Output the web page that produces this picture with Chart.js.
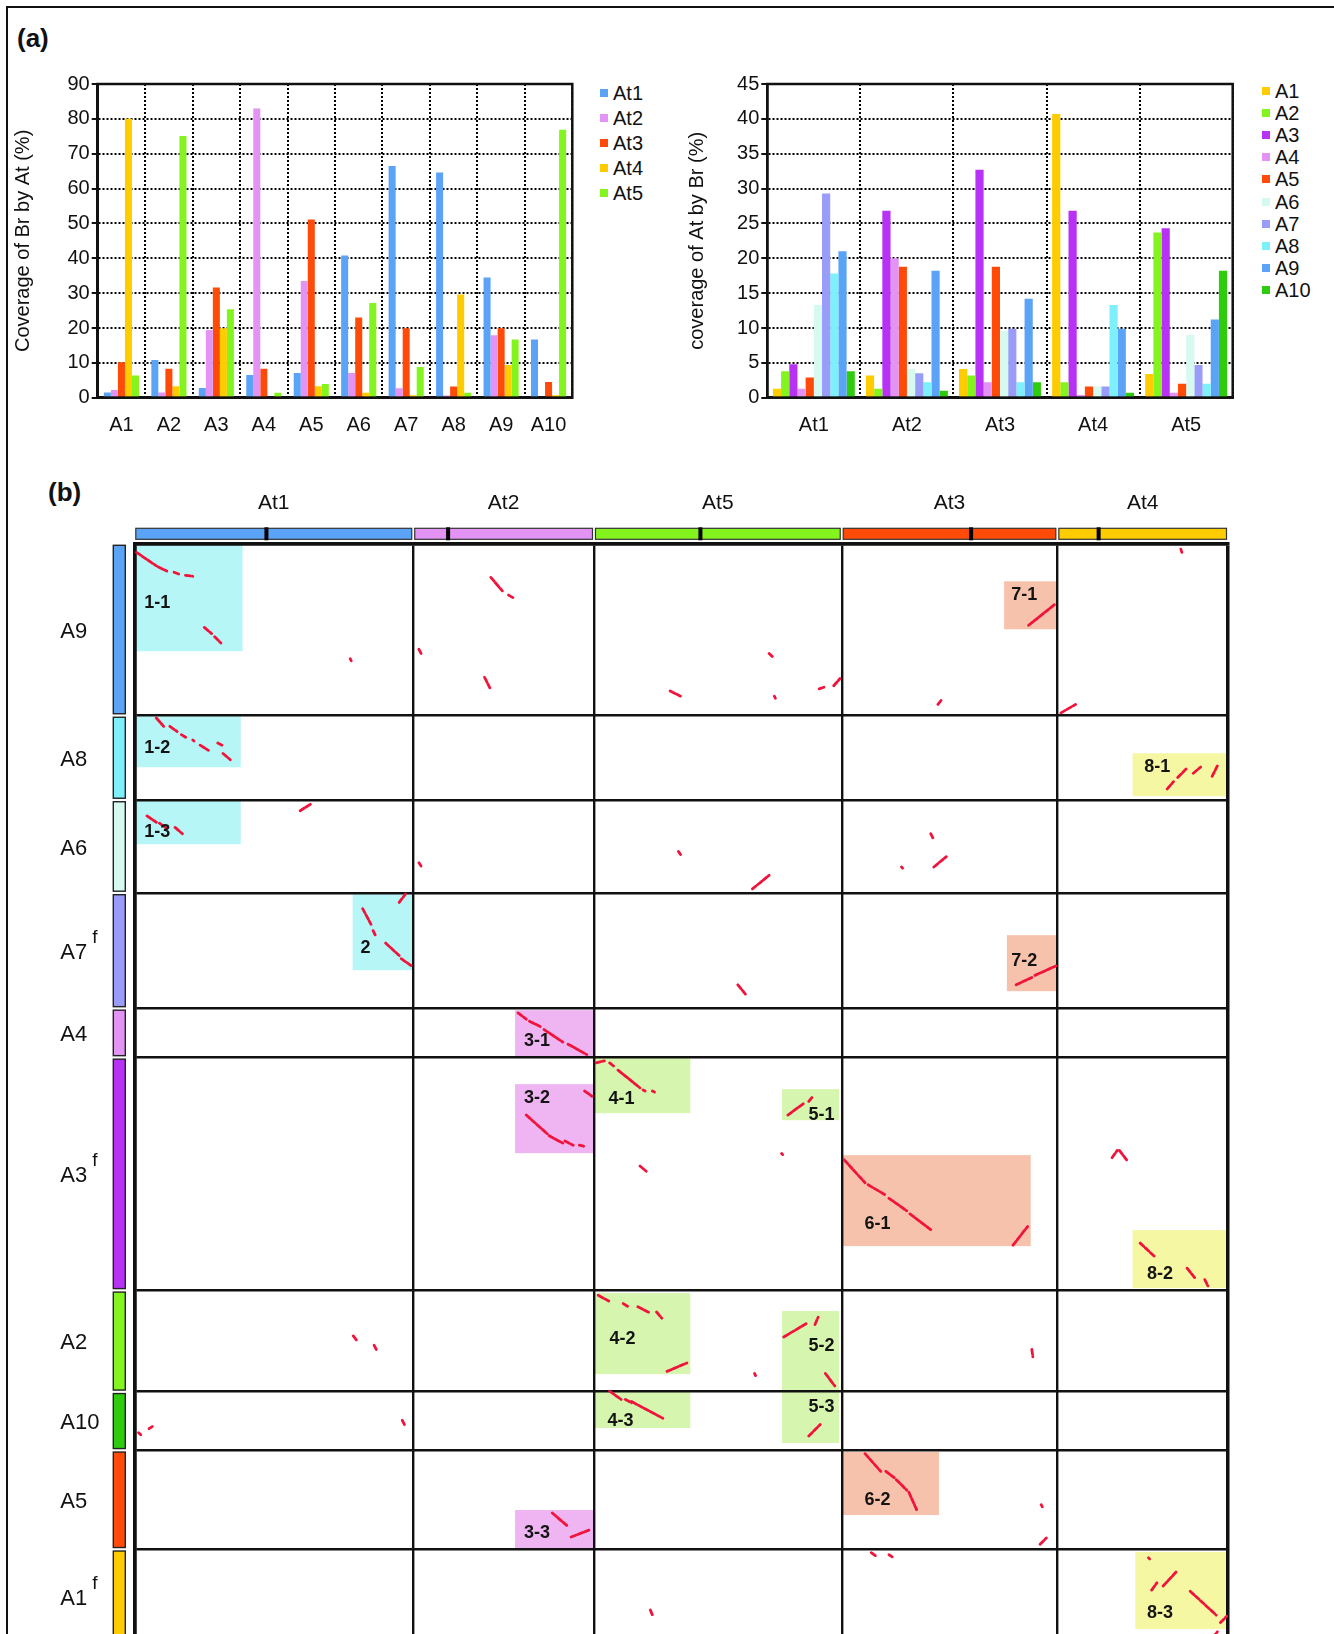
<!DOCTYPE html>
<html>
<head>
<meta charset="utf-8">
<title>Br / At synteny coverage</title>
<script src="https://cdn.jsdelivr.net/npm/chart.js@4.4.1/dist/chart.umd.min.js"></script>
<style>
    body { margin: 0; width: 1334px; height: 1634px; overflow: hidden; background: #fff; position: relative;
           font-family: "Liberation Sans", Arial, sans-serif; color: #111; }
    #frame { position: absolute; left: 6px; top: 6px; width: 1400px; height: 1700px;
             border-left: 2px solid #111; border-top: 2px solid #111; }
    .panel { position: absolute; font-weight: bold; font-size: 26px; }
    canvas { position: absolute; }
    .lg { position: absolute; font-size: 20px; line-height: 20px; white-space: nowrap; }
    .lg span { display: inline-block; width: 8px; height: 8px; margin-right: 5px; vertical-align: 3px; }
</style>
</head>
<body>
<div id="frame"></div>
<div class="panel" style="left:17px;top:23px">(a)</div>
<div class="panel" style="left:48px;top:477px">(b)</div>
<canvas id="brByAt" width="590" height="400" style="left:0;top:40px"></canvas>
<canvas id="atByBr" width="590" height="400" style="left:660px;top:40px"></canvas>
<canvas id="dotPlot" width="1334" height="1260" style="left:0;top:440px"></canvas>

<script>
// chromosome names and colours
const brChroms = ['A1', 'A2', 'A3', 'A4', 'A5', 'A6', 'A7', 'A8', 'A9', 'A10'];
const atChroms = ['At1', 'At2', 'At3', 'At4', 'At5'];
const brColors = ['#ffcc00', '#84f41e', '#b832f5', '#e393f3', '#ff4a08', '#d6faf0', '#999cf8', '#7ef0fb', '#5aa3f7', '#2ecc0c'];
const atColors = ['#5aa3f7', '#e293f4', '#ff4a08', '#ffcc00', '#84f41e'];

// (a) left: coverage of Br chromosomes by At chromosomes (%), one array per At, in brChroms order
const covBrAt1 = [1.5, 10.8, 2.8, 6.5, 7.1, 40.8, 66.5, 64.6, 34.5, 16.7];
const covBrAt2 = [2.2, 1.5, 19.4, 83.0, 33.5, 7.1, 2.7, 0.6, 17.9, 0];
const covBrAt3 = [10.2, 8.3, 31.6, 8.3, 51.1, 23.0, 19.9, 3.2, 19.9, 4.5];
const covBrAt4 = [80.0, 3.3, 19.9, 0, 3.3, 1.4, 0.7, 29.6, 9.4, 0.7];
const covBrAt5 = [6.4, 75.1, 25.4, 1.4, 3.9, 27.2, 8.8, 1.4, 16.7, 76.9];

// (a) right: coverage of At chromosomes by Br chromosomes (%), one array per A, in atChroms order
const covAtA1 = [1.3, 3.2, 4.1, 40.7, 3.4];
const covAtA2 = [3.8, 1.3, 3.2, 2.2, 23.7];
const covAtA3 = [4.8, 26.8, 32.7, 26.8, 24.3];
const covAtA4 = [1.3, 20.0, 2.2, 0.4, 0.7];
const covAtA5 = [2.9, 18.8, 18.8, 1.6, 2.0];
const covAtA6 = [13.3, 4.1, 9.6, 1.6, 9.0];
const covAtA7 = [29.3, 3.5, 9.9, 1.6, 4.7];
const covAtA8 = [17.8, 2.2, 2.2, 13.3, 2.0];
const covAtA9 = [21.0, 18.2, 14.2, 9.9, 11.2];
const covAtA10 = [3.8, 1.0, 2.2, 0.7, 18.2];

// (b) dot plot: At chromosomes along the top (Mb), Br chromosomes down the side
const dotCols = ['At1', 'At2', 'At5', 'At3', 'At4'];
const dotColLen = [30.4, 19.7, 27.0, 23.5, 18.6];
const dotColCen = [14.4, 3.8, 11.6, 14.1, 4.5];
const dotRows = ['A9', 'A8', 'A6', 'A7', 'A4', 'A3', 'A2', 'A10', 'A5', 'A1'];
const dotRowLen = [17.2, 8.45, 9.3, 11.55, 4.9, 23.3, 10.15, 5.85, 9.9, 9.5];
const dotRowSup = ['', '', '', 'f', '', 'f', '', '', '', 'f'];

// syntenic blocks: name, x from/to, y from/to, label anchor x/y, block group
const blocks = [
    ['1-1', 0, 11.8, 0, 10.8, 2.5, 6.0, 0],
    ['1-2', 0, 11.6, 17.3, 22.4, 2.5, 20.5, 0],
    ['1-3', 0, 11.6, 25.7, 30.1, 2.5, 28.9, 0],
    ['2', 23.8, 30.4, 35.1, 42.7, 25.2, 40.5, 0],
    ['3-1', 41.5, 50.1, 46.7, 51.3, 43.9, 49.8, 1],
    ['3-2', 41.5, 50.1, 54.1, 61.0, 43.9, 55.5, 1],
    ['3-3', 41.5, 50.1, 96.7, 100.6, 43.9, 99.0, 1],
    ['4-1', 50.1, 60.6, 51.4, 57.0, 53.1, 55.6, 2],
    ['4-2', 50.1, 60.6, 75.0, 83.1, 53.2, 79.6, 2],
    ['4-3', 50.1, 60.6, 84.9, 88.5, 53.0, 87.8, 2],
    ['5-1', 70.6, 76.8, 54.6, 57.7, 74.9, 57.2, 2],
    ['5-2', 70.6, 76.8, 76.8, 84.8, 74.9, 80.3, 2],
    ['5-3', 70.6, 76.8, 84.9, 90.0, 74.9, 86.4, 2],
    ['6-1', 77.1, 97.7, 61.2, 70.3, 81.0, 68.1, 3],
    ['6-2', 77.1, 87.7, 90.9, 97.2, 81.0, 95.7, 3],
    ['7-1', 94.8, 100.6, 3.8, 8.6, 97.0, 5.2, 3],
    ['7-2', 95.1, 100.5, 39.2, 44.8, 97.0, 41.8, 3],
    ['8-1', 108.8, 119.0, 21.0, 25.3, 111.5, 22.4, 4],
    ['8-2', 108.8, 119.0, 68.7, 74.5, 111.8, 73.1, 4],
    ['8-3', 109.1, 119.2, 100.9, 108.6, 111.8, 107.0, 4],
];
const blockFills = ['#b6f6f6', '#efb4f2', '#d6f5ae', '#f7c2ab', '#f5f7a2'];

// matching segments: x1, y1, x2, y2
const dotSegments = [
    // A9
    [0.24, 0.91, 2.40, 2.26], [2.63, 2.37, 3.54, 2.78], [4.33, 2.89, 4.90, 3.10], [5.58, 3.20, 6.38, 3.30],
    [7.63, 8.41, 8.42, 9.03], [8.76, 9.35, 9.44, 9.97], [23.53, 11.54, 23.64, 11.75],
    [38.86, 3.41, 40.11, 4.76], [40.79, 5.18, 41.36, 5.49], [31.02, 10.60, 31.25, 11.02], [38.18, 13.41, 38.75, 14.46],
    [69.19, 11.02, 69.53, 11.33], [58.40, 14.77, 59.53, 15.29], [69.76, 15.29, 69.87, 15.5], [74.64, 14.56, 75.32, 14.35], [76.23, 14.25, 76.92, 13.52],
    [97.47, 8.20, 100.31, 6.12], [87.59, 16.12, 87.93, 15.71],
    [114.06, 0.59, 114.17, 0.91], [100.99, 16.96, 102.59, 16.12],
    // A8
    [2.40, 17.48, 3.20, 18.31], [3.88, 18.31, 4.67, 18.83], [5.13, 19.14, 5.69, 19.46], [6.38, 19.67, 6.5, 19.77],
    [7.17, 20.19, 8.08, 20.71], [9.10, 19.98, 9.56, 20.19], [9.67, 21.02, 10.46, 21.65],
    [112.58, 24.57, 113.26, 23.84], [113.72, 23.42, 114.63, 22.58], [115.42, 23.00, 116.22, 22.38], [117.47, 23.31, 118.04, 22.27],
    // A6
    [1.38, 27.27, 2.40, 27.90], [2.74, 28.00, 3.54, 28.52], [4.44, 28.42, 5.24, 29.05], [18.08, 26.75, 19.32, 26.03],
    [31.02, 31.96, 31.25, 32.28], [59.31, 30.82, 59.53, 31.13], [67.37, 34.57, 69.19, 33.21],
    [86.80, 29.05, 87.03, 29.46], [83.62, 32.38, 83.73, 32.5], [87.14, 32.38, 88.50, 31.34],
    // A7
    [24.89, 36.55, 25.80, 38.11], [26.03, 38.74, 26.25, 39.16], [27.39, 39.99, 28.87, 41.24], [29.09, 41.55, 30.23, 42.28],
    [28.87, 35.92, 29.55, 35.09], [65.78, 44.16, 66.69, 45.20], [96.11, 44.16, 97.82, 43.43], [98.16, 43.22, 100.43, 42.28],
    // A4
    [41.82, 46.97, 42.72, 47.60], [43.07, 47.80, 44.43, 48.43], [44.66, 48.64, 46.70, 49.89], [47.27, 50.10, 49.31, 51.14],
    // A3
    [42.72, 57.19, 45.00, 59.06], [45.22, 59.27, 46.70, 60.0], [46.93, 59.79, 47.84, 60.21], [48.51, 60.21, 48.97, 60.31],
    [49.08, 54.79, 49.88, 55.31],
    [50.33, 51.97, 51.24, 51.77], [51.81, 51.97, 52.38, 52.39], [52.72, 52.70, 55.11, 54.47], [55.45, 54.68, 55.67, 54.79],
    [56.47, 54.79, 56.69, 54.89],
    [71.23, 57.19, 72.94, 56.04], [73.51, 55.83, 73.96, 55.31], [70.55, 61.04, 70.66, 61.15], [55.11, 62.29, 55.79, 62.81],
    [77.37, 61.67, 79.64, 63.96], [79.98, 64.17, 81.91, 65.21], [82.25, 65.52, 84.19, 66.77], [84.53, 67.08, 86.80, 68.65],
    [95.77, 70.21, 97.36, 68.34],
    [106.56, 61.46, 107.13, 60.73], [107.36, 60.73, 108.15, 61.67],
    [109.63, 70.00, 111.22, 71.36], [114.74, 72.51, 115.65, 73.55], [116.67, 73.65, 117.01, 74.28],
    // A2
    [23.87, 79.28, 24.21, 79.70], [26.14, 80.22, 26.37, 80.64],
    [50.56, 75.22, 51.81, 75.84], [53.29, 76.05, 53.86, 76.37], [54.88, 76.37, 56.24, 76.99], [56.92, 76.89, 57.49, 77.51],
    [58.06, 82.83, 60.22, 81.99],
    [67.60, 83.04, 67.71, 83.25], [70.78, 79.39, 73.28, 78.03], [74.19, 78.14, 74.53, 77.41], [75.32, 83.04, 76.35, 84.29],
    [97.82, 80.64, 97.93, 81.37],
    // A10
    [0.47, 88.97, 0.7, 89.18], [1.61, 88.56, 1.95, 88.35], [29.21, 87.73, 29.43, 88.14],
    [51.81, 84.81, 53.06, 85.64], [53.52, 85.64, 54.20, 85.96], [54.20, 85.85, 57.60, 87.52], [73.51, 89.29, 74.76, 88.14],
    // A5
    [45.56, 97.00, 47.27, 98.35], [47.61, 99.40, 49.65, 98.67],
    [79.64, 91.06, 81.35, 92.83], [81.91, 92.83, 82.82, 93.46], [83.05, 93.66, 84.19, 94.71], [84.42, 94.92, 85.32, 96.79],
    [98.84, 96.16, 98.95, 96.37], [98.72, 100.13, 99.40, 99.50],
    // A1
    [80.32, 100.96, 80.78, 101.27], [82.25, 101.17, 82.60, 101.38], [56.24, 106.70, 56.47, 107.21],
    [110.54, 101.48, 110.65, 101.59], [110.88, 104.71, 111.45, 103.98], [112.13, 104.30, 113.60, 102.84],
    [115.08, 104.82, 117.92, 107.21], [118.38, 107.94, 119.06, 107.32], [117.47, 109.5, 118.04, 108.88],
];

const FONT = '"Liberation Sans", Arial, sans-serif';
Chart.defaults.font.family = FONT;
Chart.defaults.color = '#111';

// solid box round the plot area
const plotFrame = {
    id: 'plotFrame',
    afterDraw(chart) {
        const { ctx, chartArea: a } = chart;
        ctx.save();
        ctx.strokeStyle = '#111';
        ctx.lineWidth = 2.5;
        ctx.strokeRect(a.left, a.top, a.right - a.left, a.bottom - a.top);
        ctx.restore();
    }
};

function coverageChart(id, labels, series, names, colors, yMax, yStep, title, yWidth, titlePad, padRight, catPct) {
    return new Chart(document.getElementById(id), {
        type: 'bar',
        data: {
            labels: labels,
            datasets: series.map((d, i) => ({
                label: names[i],
                data: d,
                backgroundColor: colors[i],
                borderWidth: 0,
                barPercentage: 1,
                categoryPercentage: catPct,
            }))
        },
        options: {
            responsive: false,
            animation: false,
            events: [],
            layout: { padding: { top: 44, right: padRight, left: 0, bottom: 0 } },
            plugins: { legend: { display: false }, tooltip: { enabled: false } },
            scales: {
                x: {
                    afterFit: s => { s.height = 42.3; },
                    grid: { color: '#000', lineWidth: 2, drawTicks: false, offset: true },
                    border: { display: true, color: '#111', width: 2.5, dash: [2, 2] },
                    ticks: { font: { size: 20 }, padding: 16, color: '#111' },
                },
                y: {
                    min: 0,
                    max: yMax,
                    afterFit: s => { s.width = yWidth; },
                    grid: { color: '#000', lineWidth: 2, tickLength: 6, tickColor: '#111', tickWidth: 2, tickBorderDash: [] },
                    border: { display: true, color: '#111', width: 2.5, dash: [2, 2] },
                    ticks: { stepSize: yStep, font: { size: 20 }, padding: 2, color: '#111' },
                    title: { display: true, text: title, font: { size: 20 }, color: '#111', padding: { top: titlePad } },
                }
            }
        },
        plugins: [plotFrame]
    });
}

function htmlLegend(names, colors, left, top, step) {
    names.forEach((n, i) => {
        const item = document.createElement('div');
        item.className = 'lg';
        item.style.left = left + 'px';
        item.style.top = (top + i * step) + 'px';
        const sw = document.createElement('span');
        sw.style.background = colors[i];
        item.appendChild(sw);
        item.appendChild(document.createTextNode(n));
        document.body.appendChild(item);
    });
}

coverageChart('brByAt', brChroms, [covBrAt1, covBrAt2, covBrAt3, covBrAt4, covBrAt5], atChroms, atColors,
    90, 10, 'Coverage of Br by At (%)', 97.7, 11, 17.7, 0.74);
coverageChart('atByBr', atChroms,
    [covAtA1, covAtA2, covAtA3, covAtA4, covAtA5, covAtA6, covAtA7, covAtA8, covAtA9, covAtA10], brChroms, brColors,
    45, 5, 'coverage of At by Br (%)', 107.3, 25, 17.3, 0.88);
htmlLegend(atChroms, atColors, 600, 83, 25);
htmlLegend(brChroms, brColors, 1262, 80.5, 22.2);

// ---- (b) dot plot ----
const cumsum = arr => arr.reduce((acc, v) => { acc.push(acc[acc.length - 1] + v); return acc; }, [0]);
const colBounds = cumsum(dotColLen);
const rowBounds = cumsum(dotRowLen);

const segPoints = [];
dotSegments.forEach(([x1, y1, x2, y2]) => {
    segPoints.push({ x: x1, y: y1 }, { x: x2, y: y2 }, { x: x2, y: null });
});

const dotPlotDecor = {
    id: 'dotPlotDecor',
    beforeDraw(chart) {
        const { ctx, scales: { x, y } } = chart;
        ctx.save();
        blocks.forEach(([, x1, x2, y1, y2, , , g]) => {
            const px1 = x.getPixelForValue(x1), px2 = x.getPixelForValue(x2);
            const py1 = y.getPixelForValue(y1), py2 = y.getPixelForValue(y2);
            ctx.fillStyle = blockFills[g];
            ctx.fillRect(px1, py1, px2 - px1, py2 - py1);
        });
        ctx.restore();
    },
    afterDraw(chart) {
        const { ctx, chartArea, scales: { x, y } } = chart;
        ctx.save();
        ctx.textAlign = 'center';
        ctx.textBaseline = 'middle';

        // block labels
        ctx.font = 'bold 18px ' + FONT;
        ctx.fillStyle = '#141414';
        blocks.forEach(([name, , , , , lx, ly]) => {
            ctx.fillText(name, x.getPixelForValue(lx), y.getPixelForValue(ly));
        });

        // At chromosome bars and names along the top
        dotCols.forEach((name, i) => {
            const a = x.getPixelForValue(colBounds[i]) + 1.5;
            const b = x.getPixelForValue(colBounds[i + 1]) - 1.5;
            const top = chartArea.top - 15, h = 11;
            ctx.fillStyle = atColors[atChroms.indexOf(name)];
            ctx.fillRect(a, top, b - a, h);
            ctx.strokeStyle = '#333';
            ctx.lineWidth = 1.2;
            ctx.strokeRect(a, top, b - a, h);
            const c = x.getPixelForValue(colBounds[i] + dotColCen[i]);
            ctx.fillStyle = '#000';
            ctx.fillRect(c - 2, top - 1, 4, h + 2);
            ctx.fillStyle = '#111';
            ctx.font = '21px ' + FONT;
            ctx.fillText(name, (a + b) / 2, chartArea.top - 40);
        });

        // Br chromosome bars and names down the side
        dotRows.forEach((name, i) => {
            const a = y.getPixelForValue(rowBounds[i]) + 2;
            const b = y.getPixelForValue(rowBounds[i + 1]) - 1.5;
            const left = chartArea.left - 21, w = 12;
            ctx.fillStyle = brColors[brChroms.indexOf(name)];
            ctx.fillRect(left, a, w, b - a);
            ctx.strokeStyle = '#222';
            ctx.lineWidth = 1.4;
            ctx.strokeRect(left, a, w, b - a);
            const mid = (a + b) / 2 + 2;
            ctx.fillStyle = '#111';
            ctx.textAlign = 'left';
            ctx.font = '22px ' + FONT;
            ctx.fillText(name, chartArea.left - 74, mid);
            if (dotRowSup[i]) {
                const w2 = ctx.measureText(name).width;
                ctx.font = '19px ' + FONT;
                ctx.fillText(dotRowSup[i], chartArea.left - 74 + w2 + 5, mid - 15);
            }
            ctx.textAlign = 'center';
        });
        ctx.restore();
    }
};

const gridWidth = n => c => (c.index === 0 || c.index === n) ? 3.5 : 2.4;

new Chart(document.getElementById('dotPlot'), {
    type: 'scatter',
    data: {
        datasets: [{
            label: 'matches',
            data: segPoints,
            showLine: true,
            spanGaps: false,
            borderColor: '#f0143c',
            borderWidth: 2.8,
            borderCapStyle: 'round',
            borderDash: [5, 2],
            pointRadius: 0,
        }]
    },
    options: {
        responsive: false,
        animation: false,
        events: [],
        layout: { padding: { left: 134.3, top: 103.3, right: 106, bottom: 56 } },
        plugins: { legend: { display: false }, tooltip: { enabled: false } },
        scales: {
            x: {
                type: 'linear',
                position: 'top',
                min: 0,
                max: colBounds[colBounds.length - 1],
                afterFit: s => { s.height = 0; },
                afterBuildTicks: s => { s.ticks = colBounds.map(v => ({ value: v })); },
                grid: { color: '#111', lineWidth: gridWidth(dotCols.length), drawTicks: false },
                border: { display: true, color: '#111', width: 3.5 },
                ticks: { display: false, autoSkip: false },
            },
            y: {
                type: 'linear',
                reverse: true,
                min: 0,
                max: rowBounds[rowBounds.length - 1],
                afterFit: s => { s.width = 0; },
                afterBuildTicks: s => { s.ticks = rowBounds.map(v => ({ value: v })); },
                grid: { color: '#111', lineWidth: gridWidth(dotRows.length), drawTicks: false },
                border: { display: true, color: '#111', width: 3.5 },
                ticks: { display: false, autoSkip: false },
            }
        }
    },
    plugins: [dotPlotDecor]
});
</script>
</body>
</html>
